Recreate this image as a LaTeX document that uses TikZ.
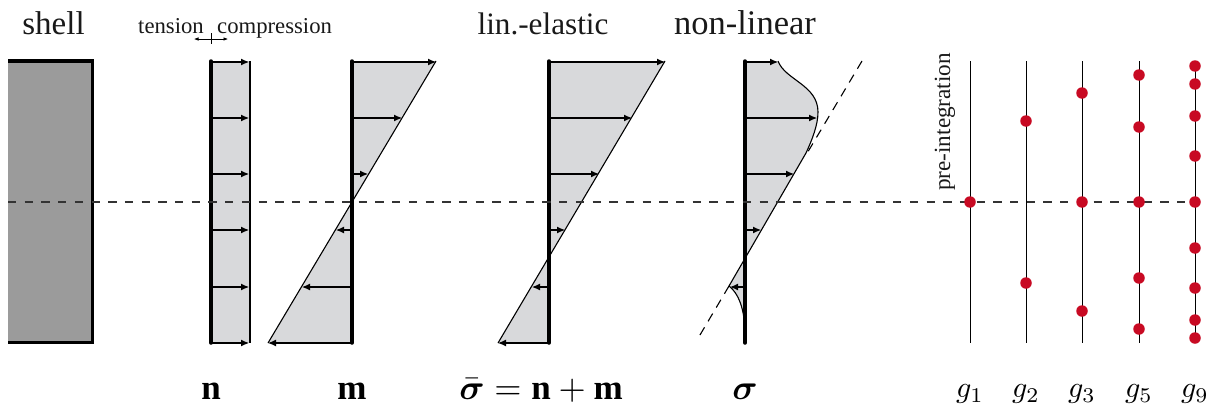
\documentclass[tikz,border=0pt]{standalone}
\usepackage{amsmath}
\usepackage{fontspec}
\setmainfont{Liberation Serif}
\usetikzlibrary{arrows.meta}
\definecolor{shellgray}{RGB}{155,155,155}
\definecolor{stressgray}{RGB}{216,217,219}
\definecolor{gpred}{RGB}{200,10,35}
\tikzset{
  x=1pt,y=-1pt,
  wall/.style={line width=3.5pt,line cap=round},
  edgeline/.style={line width=1.1pt},
  force/.style={line width=1.1pt,-{Latex[length=8pt,width=7pt]}},
  stress/.style={fill=stressgray,draw=none},
  ttl/.style={inner sep=0pt,font=\fontsize{31.2}{36}\selectfont,text=black!90},
  small/.style={inner sep=0pt,font=\fontsize{22.7}{26}\selectfont,text=black!90},
  mlabel/.style={inner sep=0pt,scale=3},
  blabel/.style={inner sep=0pt,scale=3.5,anchor=base},
  gp/.style={circle,fill=gpred,draw=none,minimum size=11.5pt,inner sep=0pt},
  gline/.style={line width=1pt},
}
\begin{document}
\begin{tikzpicture}
\useasboundingbox (0,0) rectangle (1217,410);
% shell
\fill[shellgray] (8,61) rectangle (92,342);
\draw[line width=3.2pt] (8,61) -- (92.5,61) -- (92.5,342.5) -- (8,342.5);
\node[ttl,font=\fontsize{33}{36}\selectfont,anchor=base] (shell) at (53.5,34) {shell};
% axis
\node[small,anchor=base west] (ten) at (138,33) {tension};
\node[small,anchor=base west] (com) at (217,33) {compression};
\coordinate (al) at (194,39); \coordinate (ar) at (228,39);
\coordinate (tt) at (211,33); \coordinate (tb) at (211,44);
\draw[line width=.6pt,{Latex[length=4.5pt,width=3.5pt]}-{Latex[length=4.5pt,width=3.5pt]}] (al) -- (ar);
\draw[line width=.6pt] (tt) -- (tb);
% n
\fill[stress] (211,61) rectangle (250,343);
\draw[edgeline] (250,61) -- (250,343);
\foreach \y in {62,118,174,230,287,343} \draw[force] (211,\y) -- (249,\y);
\draw[wall] (211,61) -- (211,343);
\node[blabel] (ln) at (211,399) {$\mathbf{n}$};
% m
\fill[stress] (352,61) -- (436,61) -- (268,343) -- (352,343) -- cycle;
\draw[edgeline] (436,61) -- (268,343);
\draw[force] (352,62) -- (436,62);
\draw[force] (352,118) -- (402,118);
\draw[force] (352,174) -- (368,174);
\draw[force] (352,230) -- (336,230);
\draw[force] (352,287) -- (302,287);
\draw[force] (352,343) -- (268,343);
\draw[wall] (352,61) -- (352,343);
\node[blabel] (lm) at (352,399) {$\mathbf{m}$};
% lin-elastic
\fill[stress] (549,61) -- (665,61) -- (498,343) -- (549,343) -- cycle;
\draw[edgeline] (665,61) -- (498,343);
\draw[force] (549,62) -- (665,62);
\draw[force] (549,118) -- (632,118);
\draw[force] (549,174) -- (599,174);
\draw[force] (549,230) -- (565,230);
\draw[force] (549,287) -- (532,287);
\draw[force] (549,343) -- (498,343);
\draw[wall] (549,61) -- (549,343);
\node[blabel] (ls) at (541,399) {$\bar{\boldsymbol{\sigma}} = \mathbf{n} + \mathbf{m}$};
\node[ttl,anchor=base] (lin) at (543,34) {lin.-elastic};
% non-linear
\fill[stress] (745,61) -- (778,61) .. controls (785,80) and (818,85) .. (818,112) .. controls (818,125) and (812,140) .. (806,153) -- (729,286) .. controls (738,293) and (745,308) .. (745,335) -- cycle;
\draw[edgeline] (778,61) .. controls (785,80) and (818,85) .. (818,112) .. controls (818,125) and (812,140) .. (806,153) -- (729,286) .. controls (738,293) and (745,308) .. (745,335);
\draw[edgeline,dash pattern=on 9pt off 7pt] (862,61) -- (806,155);
\draw[edgeline,dash pattern=on 9pt off 7pt] (729,286) -- (697,340);
\draw[force] (745,62) -- (778,62);
\draw[force] (745,118) -- (817,118);
\draw[force] (745,174) -- (794,174);
\draw[force] (745,230) -- (761,230);
\draw[force] (745,287) -- (730,287);
\draw[wall] (745,61) -- (745,343);
\node[blabel] (lsig) at (745,399) {$\boldsymbol{\sigma}$};
\node[ttl,font=\fontsize{34.5}{38}\selectfont,anchor=base] (non) at (745,34) {non-linear};
% midplane
\coordinate (dl) at (8,202); \coordinate (dr) at (1195,202);
\draw[line width=1.2pt,draw=black!80,dash pattern=on 8.3pt off 8.4pt] (dl) -- (dr);
% integration
\node[small,font=\fontsize{23.2}{28}\selectfont,rotate=90,anchor=base west] (pre) at (950,191) {pre-integration};
\foreach \x/\n in {970/1,1026/2,1082/3,1139/5,1195/9}{
  \coordinate (t\n) at (\x,61); \coordinate (b\n) at (\x,343);
  \draw[gline] (t\n) -- (b\n);
  \node[mlabel] (g\n) at (\x,394) {$g_{\n}$};
}
\node[gp] (a1) at (970,202) {};
\foreach \y in {121,283} \node[gp] at (1026,\y) {};
\foreach \y in {93,202,311} \node[gp] at (1082,\y) {};
\foreach \y in {75,127,202,278,329} \node[gp] at (1139,\y) {};
\foreach \y in {66,84,116,156,202,248,288,320,338} \node[gp] at (1195,\y) {};
\end{tikzpicture}
\end{document}
